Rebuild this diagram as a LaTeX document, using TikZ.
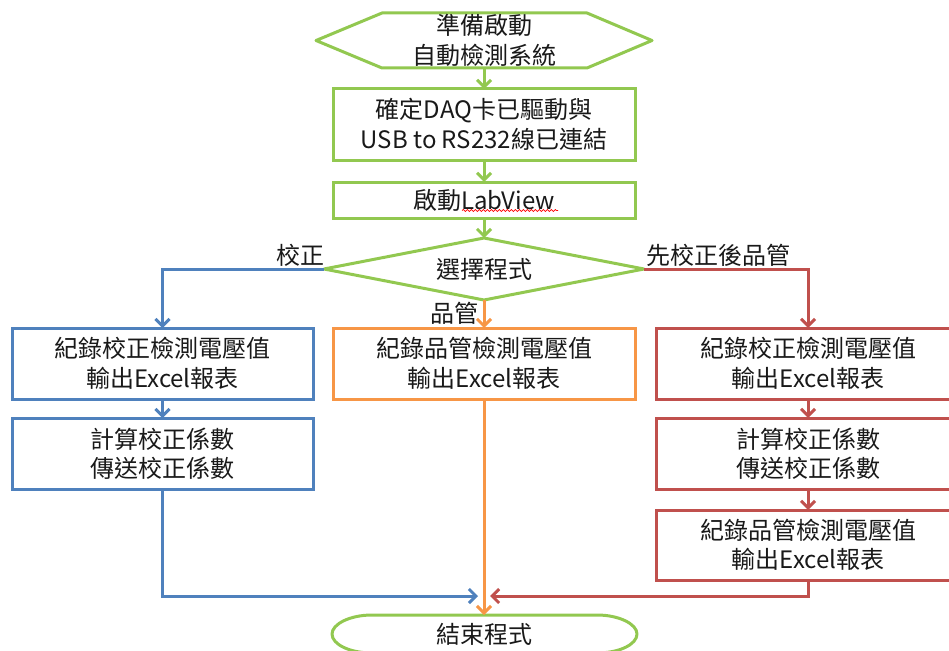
\documentclass[tikz,border=0pt]{standalone}
\usepackage{fontspec}
\setmainfont{Noto Sans CJK TC}
\usetikzlibrary{arrows.meta,shapes.geometric,decorations.pathmorphing}
\definecolor{cgreen}{RGB}{146,200,80}
\definecolor{cblue}{RGB}{79,129,189}
\definecolor{corange}{RGB}{247,150,70}
\definecolor{cred}{RGB}{192,80,77}
\definecolor{ctext}{RGB}{25,25,25}
\begin{document}
\begin{tikzpicture}[x=1pt,y=-1pt,
  txt/.style={font=\fontsize{24}{29.5}\selectfont, align=center, text=ctext, inner sep=0pt, outer sep=0pt},
  boxbase/.style={txt, draw, line width=3pt, minimum height=71pt},
  gbox/.style={boxbase, draw=cgreen, minimum width=302pt},
  bbox/.style={boxbase, draw=cblue, minimum width=301pt},
  obox/.style={boxbase, draw=corange, minimum width=302pt},
  rbox/.style={boxbase, draw=cred, minimum width=304pt},
  gline/.style={draw=cgreen, line width=3pt, line join=round},
  arr/.style={line width=3pt, -{Straight Barb[length=7pt,width=14pt]}},
  lbl/.style={txt}
]
\useasboundingbox (0,0) rectangle (949,650);

% start hexagon
\draw[gline] (316,40.5) -- (382,13) -- (587,13) -- (652,40.5) -- (587,68) -- (382,68) -- cycle;
\node[txt, minimum height=55pt] (start) at (484,40.5) {準備啟動\\自動檢測系統};

\node[gbox] (b1) at (484,124.5) {確定DAQ卡已驅動與\\USB to RS232線已連結};
\node[gbox, minimum height=36pt] (b2) at (484,200) {啟動LabView};
\draw[red, line width=0.7pt, decorate, decoration={snake, amplitude=1pt, segment length=4pt}] (462,210.5) -- (558,210.5);

\node[txt, shape=diamond, aspect=5.16, draw=cgreen, line width=3pt, line join=round, minimum width=320pt, minimum height=62pt] (dia) at (484,269) {選擇程式};

\node[bbox] (bl1) at (162.5,363.5) {紀錄校正檢測電壓值\\輸出Excel報表};
\node[bbox] (bl2) at (162.5,453.5) {計算校正係數\\傳送校正係數};

\node[obox] (or1) at (484,363.5) {紀錄品管檢測電壓值\\輸出Excel報表};

\node[rbox] (rd1) at (808,363.5) {紀錄校正檢測電壓值\\輸出Excel報表};
\node[rbox] (rd2) at (808,453.5) {計算校正係數\\傳送校正係數};
\node[rbox, minimum height=70pt] (rd3) at (808,545) {紀錄品管檢測電壓值\\輸出Excel報表};

% end terminator
\node[txt, minimum width=305pt, minimum height=38pt] (end) at (484,634) {結束程式};
\draw[gline] (372,615) -- (597,615) .. controls (619,615) and (637,624) .. (637,634)
  .. controls (637,644.5) and (619,653) .. (597,653) -- (372,653)
  .. controls (350,653) and (332,644.5) .. (332,634)
  .. controls (332,624) and (350,615) .. (372,615) -- cycle;

% labels
\node[lbl] (lcal) at (300,255) {校正};
\node[lbl] (lqc) at (454,313) {品管};
\node[lbl] (lboth) at (718,255) {先校正後品管};

% connectors
\draw[arr, cgreen] (start.south) -- (b1.north);
\draw[arr, cgreen] (b1.south) -- (b2.north);
\draw[arr, cgreen] (b2.south) -- (dia.north);
\draw[arr, cblue] (dia.west) -| (bl1.north);
\draw[arr, corange] (dia.south) -- (or1.north);
\draw[arr, cred] (dia.east) -| (rd1.north);
\draw[arr, cblue] (bl1.south) -- (bl2.north);
\draw[arr, cred] (rd1.south) -- (rd2.north);
\draw[arr, cred] (rd2.south) -- (rd3.north);
\coordinate (mL) at (478,596);
\coordinate (mR) at (490,596);
\draw[arr, cblue] (bl2.south) |- (mL);
\draw[arr, cred] (rd3.south) |- (mR);
\draw[arr, corange] (or1.south) -- (end.north);
\end{tikzpicture}
\end{document}
